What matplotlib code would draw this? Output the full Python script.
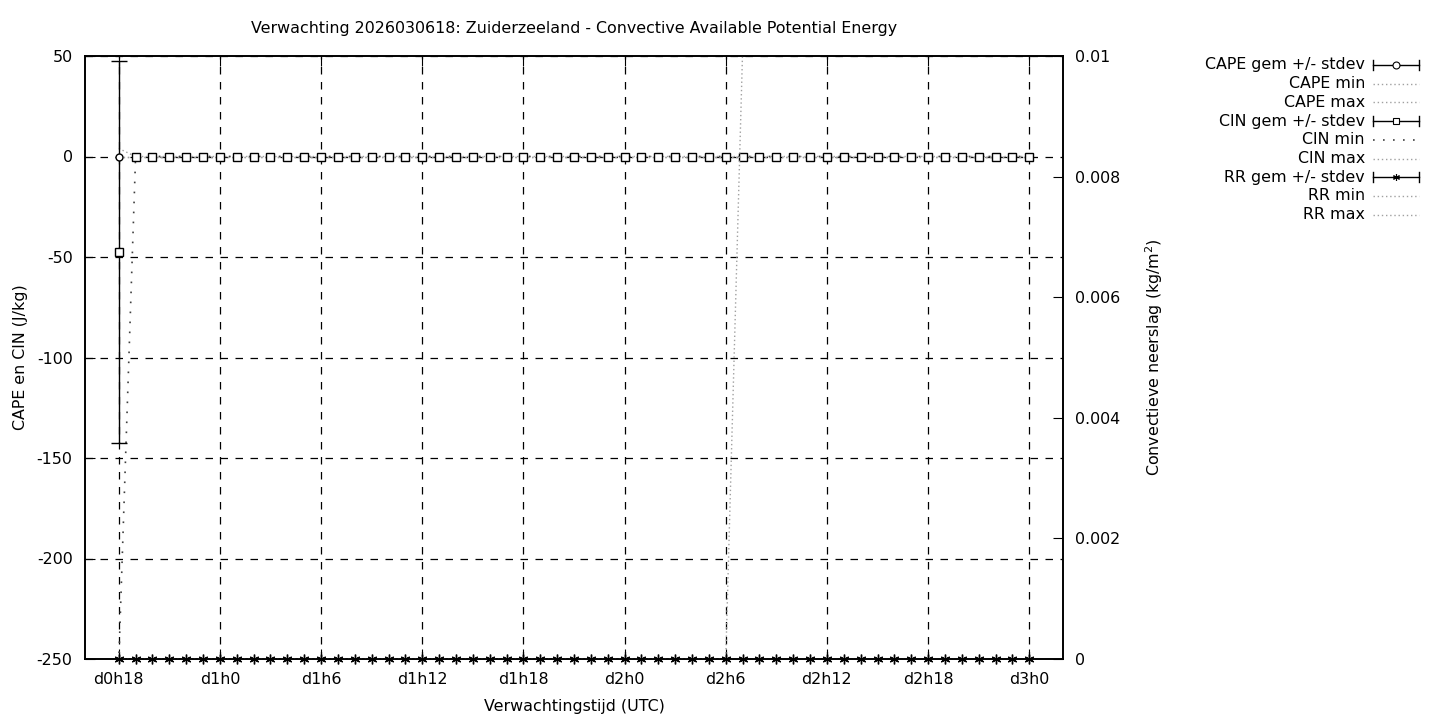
import numpy as np
import matplotlib
matplotlib.use('Agg')
import matplotlib.pyplot as plt
from matplotlib.lines import Line2D

plt.rcParams['axes.unicode_minus'] = False

# forecast hours (d0h18 .. d3h0), hourly
hours = list(range(18, 73))
tick_hours = [18, 24, 30, 36, 42, 48, 54, 60, 66, 72]
tick_labels = ["d0h18", "d1h0", "d1h6", "d1h12", "d1h18", "d2h0", "d2h6", "d2h12", "d2h18", "d3h0"]

n = len(hours)
cape_mean = [0.0] * n
cape_std = [0.0] * n
cape_min = [0.0] * n
cape_max = [4.0] + [0.0] * (n - 1)

cin_mean = [-47.5] + [0.0, -0.3, 0.0, -0.3, 0.0, 0.0, -0.3, 0.0, -0.3, 0.0, 0.0, 0.0, 0.0, 0.0,
                      -0.3, 0.0, 0.0, 0.0, 0.0, 0.0, 0.0, -0.3, 0.0, 0.0, 0.0, 0.0, -0.3, 0.0, 0.0,
                      0.0, -0.3, 0.0, 0.0, -0.3, 0.0, 0.0, -0.3, 0.0, -0.3, 0.0, 0.0, 0.0, 0.0, 0.0,
                      0.0, 0.0, 0.0, 0.0, -0.3, 0.0, -0.3, 0.0, 0.0, -0.3]
cin_std = [95.0] + [0.0] * (n - 1)
cin_min = [-252.0] + [0.0] * (n - 1)
cin_max = [0.0] * n

rr_mean = [0.0] * n
rr_std = [0.0] * n
rr_min = [0.0] * n
rr_max = [0.0] * 37 + [0.0101] + [0.012] * (n - 38)

fig = plt.figure(figsize=(14.4, 7.2), dpi=100)
ax = fig.add_axes([85 / 1440, 1 - 659 / 720, (1063 - 85) / 1440, (659 - 56) / 720])
ax2 = ax.twinx()

grey = "#a0a0a0"
fs = 11.4


def draw_stdev(a, x, m, s, marker, ms, **kw):
    # error bars only where the spread is non-zero, markers everywhere
    xs = [xi for xi, si in zip(x, s) if si > 0]
    lo = [mi - si for mi, si in zip(m, s) if si > 0]
    hi = [mi + si for mi, si in zip(m, s) if si > 0]
    if xs:
        a.vlines(xs, lo, hi, color="black", lw=1, zorder=3)
        a.plot(xs, lo, ls="none", marker="_", ms=12, mew=1, color="black", zorder=3)
        a.plot(xs, hi, ls="none", marker="_", ms=12, mew=1, color="black", zorder=3)
    a.plot(x, m, ls="none", marker=marker, ms=ms, mfc="white", mec="black", color="black",
           **kw)


# min / max lines
ax.plot(hours, cape_min, color=grey, ls=(0, (1, 2)), lw=1)
ax.plot(hours, cape_max, color=grey, ls=(0, (1, 2)), lw=1)
ax.plot(hours, cin_min, color="#404040", ls=(0, (1, 5)), lw=1.2)
ax.plot(hours, cin_max, color=grey, ls=(0, (1, 2)), lw=1)
ax2.plot(hours, rr_min, color=grey, ls=(0, (1, 2)), lw=1)
ax2.plot(hours, rr_max, color=grey, ls=(0, (1, 2)), lw=1)

draw_stdev(ax, hours, cape_mean, cape_std, "o", 5, mew=1, zorder=4)
draw_stdev(ax, hours, cin_mean, cin_std, "s", 6, mew=1, zorder=5)
draw_stdev(ax2, hours, rr_mean, rr_std, (6, 2, 0), 7, mew=1, zorder=5, clip_on=False)

ax.set_xlim(16, 74)
ax.set_ylim(-250, 50)
ax2.set_ylim(0, 0.01)
ax.set_xticks(tick_hours)
ax.set_xticklabels(tick_labels)
ax.set_yticks(range(-250, 51, 50))
ax2.set_yticks([0, 0.002, 0.004, 0.006, 0.008, 0.01])
ax2.set_yticklabels(["0", "0.002", "0.004", "0.006", "0.008", "0.01"])

ax.tick_params(direction="in", length=7, labelsize=fs, top=True, right=False, pad=9)
ax2.tick_params(direction="in", length=7, labelsize=fs, pad=9)

ax.grid(True, color="black", ls=(0, (6, 6)), lw=0.9)
ax.set_axisbelow(True)
for a in (ax, ax2):
    for s in a.spines.values():
        s.set_linewidth(1.2)

ax.set_xlabel("Verwachtingstijd (UTC)", fontsize=fs, labelpad=9)
ax.set_ylabel("CAPE en CIN (J/kg)", fontsize=fs, labelpad=6)
ax2.set_ylabel("Convectieve neerslag (kg/m$^2$)", fontsize=fs, labelpad=16)
fig.text(574 / 1440, 1 - 28 / 720,
         "Verwachting 2026030618: Zuiderzeeland - Convective Available Potential Energy",
         ha="center", va="center", fontsize=fs)

# legend drawn by hand (gnuplot style samples)
legend_rows = [
    ("CAPE gem +/- stdev", "err", "o"),
    ("CAPE min", "dot", None),
    ("CAPE max", "dot", None),
    ("CIN gem +/- stdev", "err", "s"),
    ("CIN min", "sparse", None),
    ("CIN max", "dot", None),
    ("RR gem +/- stdev", "err", (6, 2, 0)),
    ("RR min", "dot", None),
    ("RR max", "dot", None),
]
x0, x1 = 1373 / 1440, 1419 / 1440
for i, (label, kind, mk) in enumerate(legend_rows):
    y = 1 - (65 + i * 18.7) / 720
    fig.text(1365 / 1440, y, label, ha="right", va="center", fontsize=fs)
    if kind == "err":
        fig.add_artist(Line2D([x0, x1], [y, y], color="black", lw=1))
        fig.add_artist(Line2D([x0, x0], [y - 5 / 720, y + 5 / 720], color="black", lw=1))
        fig.add_artist(Line2D([x1, x1], [y - 5 / 720, y + 5 / 720], color="black", lw=1))
        fig.add_artist(Line2D([(x0 + x1) / 2], [y], marker=mk, ms=5, mfc="white",
                              mec="black", mew=0.8, color="black", ls="none"))
    elif kind == "sparse":
        fig.add_artist(Line2D([x0, x1], [y, y], color="#404040", lw=1.2, ls=(0, (1, 5))))
    else:
        fig.add_artist(Line2D([x0, x1], [y, y], color=grey, lw=1, ls=(0, (1, 2))))

fig.savefig("out.png", dpi=100)
